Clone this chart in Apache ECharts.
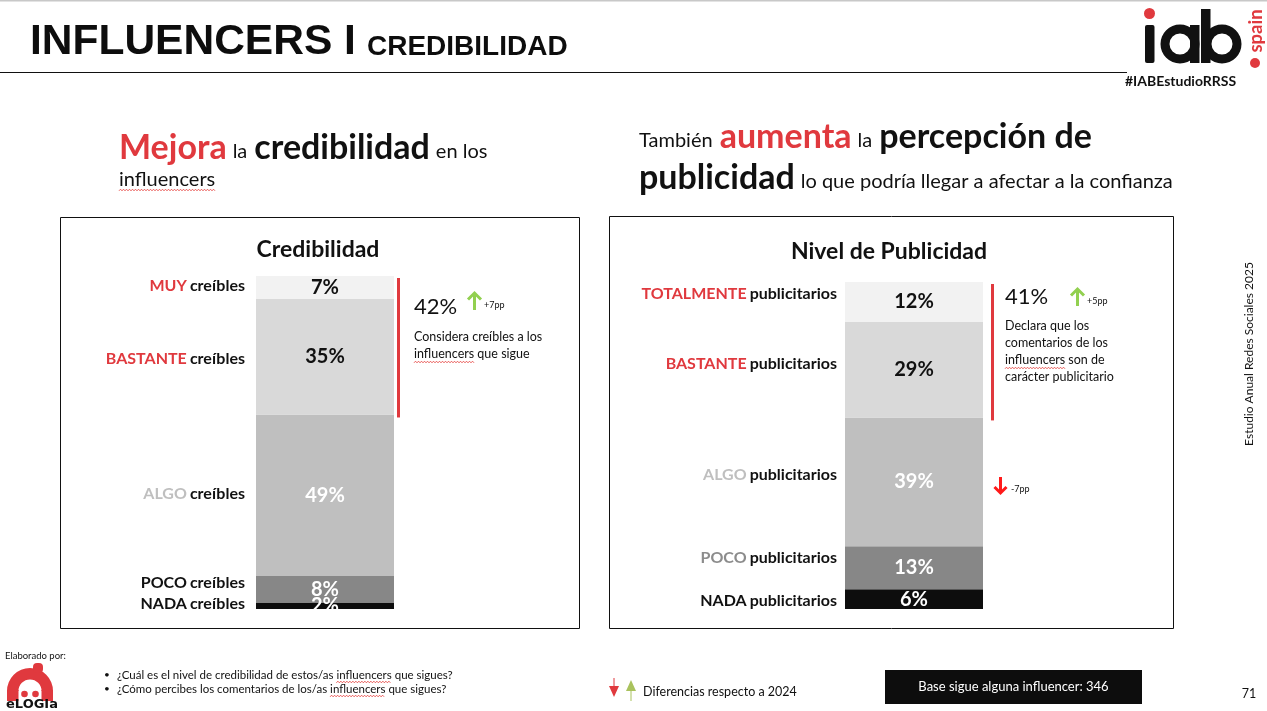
<!DOCTYPE html>
<html><head><meta charset="utf-8">
<script src="https://cdn.jsdelivr.net/npm/echarts@6/dist/echarts.min.js"></script>
<style>html,body{margin:0;padding:0;background:#fff;overflow:hidden}#c{width:1267px;height:711px}</style>
</head><body><div id="c"></div>
<script>
// ---------- data ----------
const credLevels = ['MUY', 'BASTANTE', 'ALGO', 'POCO', 'NADA'];
const credValues = [7, 35, 49, 8, 2];
const credSuffix = 'creíbles';
const credDelta = '+7pp';
const pubLevels = ['TOTALMENTE', 'BASTANTE', 'ALGO', 'POCO', 'NADA'];
const pubValues = [12, 29, 39, 13, 6];
const pubSuffix = 'publicitarios';
const pubDelta = '+5pp';
const pubAlgoDelta = '-7pp';
const baseCount = 346;

// ---------- styles ----------
const RED = '#e0393e';
const INK = '#111111';
const FONT = 'Lato, "Noto Sans", sans-serif';
const ARIAL = '"Liberation Sans", Arial, sans-serif';
const segColors = ['#f2f2f2', '#d9d9d9', '#bfbfbf', '#878787', '#0d0d0d'];
const valueColors = [INK, INK, '#ffffff', '#ffffff', '#ffffff'];
const credNameColors = [RED, RED, '#bfbfbf', INK, INK];
const pubNameColors = [RED, RED, '#bfbfbf', '#8c8c8c', INK];
const credNameDy = [-2, 2.5, -1.5, -6.5, -2];
const pubNameDy = [-8, -5.5, -6.5, -10, 2];

const sum = a => a.reduce((s, v) => s + v, 0);

function buildSeries(values, gi) {
  const out = [];
  for (let i = values.length - 1; i >= 0; i--) {
    out.push({
      type: 'bar', xAxisIndex: gi, yAxisIndex: gi, stack: 'st' + gi,
      barWidth: '100%', barCategoryGap: '0%', silent: true,
      data: [values[i]],
      itemStyle: { color: segColors[i] },
      label: { show: true, position: 'inside', formatter: '{c}%', color: valueColors[i],
               fontFamily: FONT, fontWeight: 'bold', fontSize: 20 },
      emphasis: { disabled: true }
    });
  }
  return out;
}

const grids = [
  { left: 256, top: 276, width: 138, height: 333 },
  { left: 845, top: 282, width: 138, height: 327 }
];

const chart = echarts.init(document.getElementById('c'));
const option = {
  animation: false,
  grid: grids,
  xAxis: [0, 1].map(i => ({ type: 'category', gridIndex: i, data: [''], show: false })),
  yAxis: [
    { type: 'value', gridIndex: 0, min: 0, max: sum(credValues), show: false },
    { type: 'value', gridIndex: 1, min: 0, max: sum(pubValues), show: false }
  ],
  series: buildSeries(credValues, 0).concat(buildSeries(pubValues, 1))
};
chart.setOption(option);

// ---------- helpers ----------
const mctx = document.createElement('canvas').getContext('2d');
function measure(text, size, weight) {
  mctx.font = (weight || 'normal') + ' ' + size + 'px ' + FONT;
  return mctx.measureText(text).width;
}
function T(x, y, text, st, extra) {
  return Object.assign({ type: 'text', x: x, y: y, silent: true, z: 10,
    style: Object.assign({ text: text, fontFamily: FONT, fontSize: 12, fill: INK,
      align: 'left', verticalAlign: 'middle' }, st || {}) }, extra || {});
}
function R(x, y, w, h, st, extra) {
  return Object.assign({ type: 'rect', silent: true, z: 10, shape: { x: x, y: y, width: w, height: h },
    style: Object.assign({ fill: INK }, st || {}) }, extra || {});
}
function L(x1, y1, x2, y2, color, w) {
  return { type: 'line', silent: true, z: 10, shape: { x1: x1, y1: y1, x2: x2, y2: y2 },
    style: { stroke: color, lineWidth: w } };
}
function P(points, color, w) {
  return { type: 'polyline', silent: true, z: 10, shape: { points: points },
    style: { stroke: color, lineWidth: w, fill: null, lineCap: 'butt', lineJoin: 'miter' } };
}
function pixY(gi, v) { return chart.convertToPixel({ gridIndex: gi }, [0, v])[1]; }
function segCenter(gi, values, i) {
  let below = 0;
  for (let k = i + 1; k < values.length; k++) below += values[k];
  return pixY(gi, below + values[i] / 2);
}

const g = [];
// spell-check style wavy underline under a word inside a plain line of text
function wavy(x0, y, line, word, size) {
  const idx = line.indexOf(word);
  const xs = x0 + measure(line.slice(0, idx), size);
  const w = measure(word, size);
  const pts = [];
  for (let i = 0, x = xs; x <= xs + w; i++, x += 1.5) pts.push([x, y + (i % 2 ? -0.8 : 0.8)]);
  g.push({ type: 'polyline', silent: true, z: 11, shape: { points: pts },
    style: { stroke: '#e53935', lineWidth: 0.8, fill: null } });
}

// top border + title
g.push(R(0, 0, 1267, 1.5, { fill: '#c8c8c8' }));
g.push(T(30, 42, 'INFLUENCERS I ', { fontFamily: ARIAL, fontWeight: 'bold', fontSize: 42.5, fill: '#0d0d0d' }));
g.push(T(367, 47, 'CREDIBILIDAD', { fontFamily: ARIAL, fontWeight: 'bold', fontSize: 28, fill: '#0d0d0d' }));
g.push(L(0, 72.5, 1127, 72.5, '#111', 1.2));

// iab logo
g.push({ type: 'circle', silent: true, shape: { cx: 1149.5, cy: 13.5, r: 5.5 }, style: { fill: RED } });
g.push(R(1145, 25, 9.5, 38, { fill: INK }, { shape: { x: 1145, y: 25, width: 9.5, height: 38, r: 2 } }));
g.push({ type: 'ring', silent: true, shape: { cx: 1180, cy: 44, r: 19.5, r0: 10.5 }, style: { fill: INK } });
g.push(R(1190, 25, 9.5, 38, { fill: INK }));
g.push(R(1201, 9, 9.5, 54, { fill: INK }));
g.push({ type: 'ring', silent: true, shape: { cx: 1222, cy: 44, r: 19.5, r0: 10.5 }, style: { fill: INK } });
g.push(T(1256, 31, 'spain', { fontWeight: 'bold', fontSize: 18.5, fill: RED, align: 'center' }, { rotation: Math.PI / 2 }));
g.push({ type: 'circle', silent: true, shape: { cx: 1255, cy: 63, r: 5 }, style: { fill: RED } });
g.push(T(1125, 81, '#IABEstudioRRSS', { fontWeight: 'bold', fontSize: 14, fill: INK }));

// headers
const bigR = { fontFamily: FONT, fontSize: 34, fontWeight: 'bold', fill: RED, verticalAlign: 'bottom', lineHeight: 40 };
const bigK = Object.assign({}, bigR, { fill: INK });
const smBase = { fontFamily: FONT, fontSize: 20, fill: INK, verticalAlign: 'bottom', lineHeight: 40 };
const s1 = Object.assign({}, smBase, { padding: [0, 7, 3, 6] });   // "la" between words
const s2 = Object.assign({}, smBase, { padding: [0, 0, 3, 6] });   // trailing phrase
const s3 = Object.assign({}, smBase, { padding: [0, 7, 3, 0] });   // leading word
const hr = { r: bigR, k: bigK, a: s1, b: s2, c: s3 };
g.push(T(119, 145, '{r|Mejora}{a|la}{k|credibilidad}{b|en los}', { rich: hr }));
g.push(T(119, 180, 'influencers', { fontSize: 20 }));
wavy(119, 190, 'influencers', 'influencers', 20);
g.push(T(639, 134, '{c|También}{r|aumenta}{a|la}{k|percepción de}', { rich: hr }));
g.push(T(639, 175, '{k|publicidad}{b|lo que podría llegar a afectar a la confianza}', { rich: hr }));

// panel boxes
g.push(R(60.5, 217.5, 519, 411, { fill: null, stroke: '#111', lineWidth: 1 }));
g.push(R(609.5, 216.5, 564, 412, { fill: null, stroke: '#111', lineWidth: 1 }));
g.push(T(318, 250, 'Credibilidad', { fontWeight: 'bold', fontSize: 23, align: 'center' }));
g.push(T(889, 252, 'Nivel de Publicidad', { fontWeight: 'bold', fontSize: 23, align: 'center' }));

// category labels
function catLabels(levels, values, suffix, colors, gi, xRight, dys) {
  levels.forEach((lv, i) => {
    g.push(T(xRight, segCenter(gi, values, i) + dys[i], '{a|' + lv + '} {b|' + suffix + '}', {
      align: 'right',
      rich: {
        a: { fontFamily: FONT, fontSize: 16, fontWeight: 'bold', fill: colors[i] },
        b: { fontFamily: FONT, fontSize: 16, fontWeight: 'bold', fill: INK }
      }
    }));
  });
}
catLabels(credLevels, credValues, credSuffix, credNameColors, 0, 245, credNameDy);
catLabels(pubLevels, pubValues, pubSuffix, pubNameColors, 1, 837, pubNameDy);

// the reference cuts off the last label at the bar's base
const base0 = pixY(0, 0);
g.push(R(grids[0].left - 2, base0 + 0.5, grids[0].width + 4, 12, { fill: '#ffffff' }, { z: 5 }));

// red brackets spanning the top two segments
function bracket(gi, values, x) {
  const tot = sum(values);
  const y1 = pixY(gi, tot) + 2;
  const y2 = pixY(gi, tot - values[0] - values[1]) + 3;
  g.push(L(x, y1, x, y2, RED, 3));
}
bracket(0, credValues, 398.5);
bracket(1, pubValues, 992.5);

const GREEN = '#92d050';
function upArrow(x, yTop, yBot, color, w, hw) {
  g.push(L(x, yBot, x, yTop + 1, color, w));
  g.push(P([[x - hw, yTop + hw], [x, yTop], [x + hw, yTop + hw]], color, w));
}
function downArrow(x, yTop, yBot, color, w, hw) {
  g.push(L(x, yTop, x, yBot - 1, color, w));
  g.push(P([[x - hw, yBot - hw], [x, yBot], [x + hw, yBot - hw]], color, w));
}

// left annotation
g.push(T(414, 307, (credValues[0] + credValues[1]) + '%', { fontSize: 22 }));
upArrow(474.5, 293, 310, GREEN, 3, 6.5);
g.push(T(484, 305, credDelta, { fontSize: 9 }));
g.push(T(414, 337, 'Considera creíbles a los', { fontSize: 12.5 }));
g.push(T(414, 354, 'influencers que sigue', { fontSize: 12.5 }));
wavy(414, 362, 'influencers que sigue', 'influencers', 12.5);

// right annotation
g.push(T(1005, 297, (pubValues[0] + pubValues[1]) + '%', { fontSize: 22 }));
upArrow(1077.5, 289, 306, GREEN, 3, 6.5);
g.push(T(1087, 301, pubDelta, { fontSize: 9 }));
['Declara que los', 'comentarios de los', 'influencers son de', 'carácter publicitario'].forEach((s, i) => {
  g.push(T(1005, 326 + i * 17, s, { fontSize: 12.5 }));
});
wavy(1005, 368, 'influencers son de', 'influencers', 12.5);
downArrow(1000.5, 477, 493, '#ff1a1a', 3, 6);
g.push(T(1011, 489, pubAlgoDelta, { fontSize: 9 }));

// vertical side text
g.push(T(1249, 354, 'Estudio Anual Redes Sociales 2025', { fontSize: 12, align: 'center' }, { rotation: Math.PI / 2 }));

// footer
g.push(T(5, 656, 'Elaborado por:', { fontSize: 9.5 }));
g.push({ type: 'sector', silent: true, shape: { cx: 30, cy: 691, r: 23, r0: 11.5, startAngle: Math.PI, endAngle: Math.PI * 2 }, style: { fill: RED } });
g.push(R(7, 690, 11.5, 11, { fill: RED }));
g.push(R(41.5, 690, 11.5, 11, { fill: RED }));
g.push(R(33, 663, 10, 10, { fill: RED }, { shape: { x: 33, y: 663, width: 10, height: 10, r: 4 } }));
g.push({ type: 'circle', silent: true, shape: { cx: 24.5, cy: 694, r: 3.3 }, style: { fill: RED } });
g.push({ type: 'circle', silent: true, shape: { cx: 35.5, cy: 694, r: 3.3 }, style: { fill: RED } });
g.push(T(6, 705, 'eLOGIa', { fontFamily: '"DejaVu Sans", sans-serif', fontWeight: 'bold', fontSize: 13, fill: INK }));

const q1 = '¿Cuál es el nivel de credibilidad de estos/as influencers que sigues?';
const q2 = '¿Cómo percibes los comentarios de los/as influencers que sigues?';
g.push(T(104, 675, '•', { fontSize: 10 }));
g.push(T(104, 689, '•', { fontSize: 10 }));
g.push(T(117, 675, q1, { fontSize: 11.5 }));
g.push(T(117, 689, q2, { fontSize: 11.5 }));
wavy(117, 682, q1, 'influencers', 11.5);
wavy(117, 696, q2, 'influencers', 11.5);

// legend arrows
g.push(L(614, 678, 614, 688, '#e0393e', 1));
g.push({ type: 'polygon', silent: true, shape: { points: [[609, 686], [619, 686], [614, 697]] }, style: { fill: '#e0393e' } });
g.push(L(631, 689, 631, 701, '#a9c25d', 1));
g.push({ type: 'polygon', silent: true, shape: { points: [[626, 691], [636, 691], [631, 680]] }, style: { fill: '#a9c25d' } });
g.push(T(643, 692, 'Diferencias respecto a 2024', { fontSize: 12.5 }));

g.push(R(885, 670, 257, 34, { fill: '#0d0d0d' }));
g.push(T(1013.5, 687, 'Base sigue alguna influencer: ' + baseCount, { fontSize: 13, fill: '#ffffff', align: 'center' }));
g.push(T(1249, 694, '71', { fontSize: 12.5, align: 'center' }));

chart.setOption({ graphic: { elements: g } });
</script>
</body></html>
